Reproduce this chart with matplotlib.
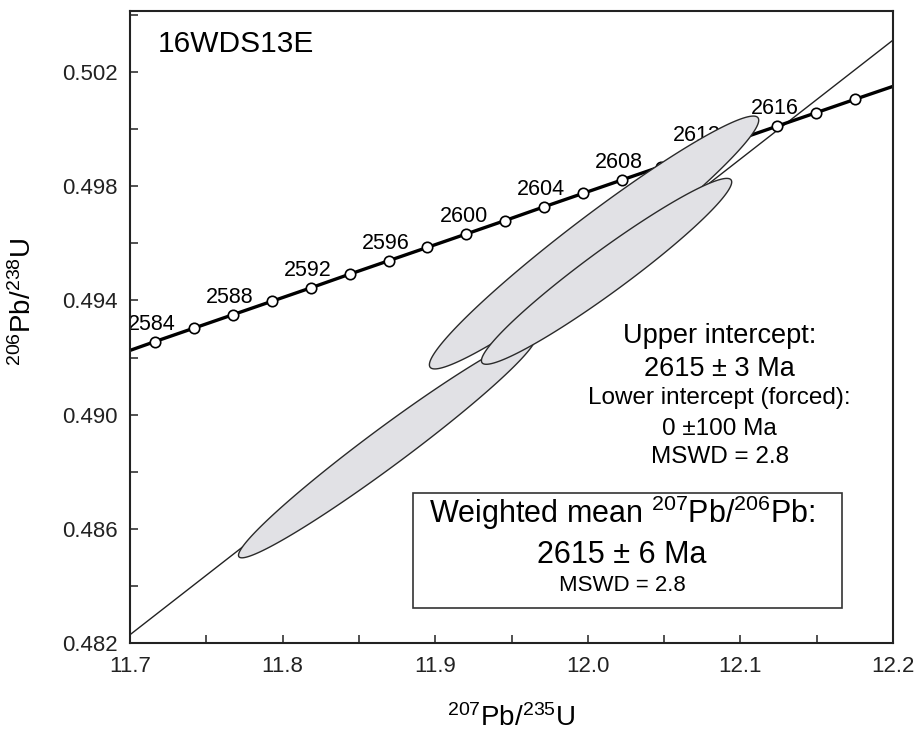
import numpy as np
import matplotlib
matplotlib.use("Agg")
import matplotlib.pyplot as plt
from matplotlib.patches import Rectangle, Polygon
from matplotlib.ticker import MultipleLocator, FormatStrFormatter

plt.rcParams['font.family'] = ['Liberation Sans', 'DejaVu Sans']
plt.rcParams['mathtext.fontset'] = 'custom'
plt.rcParams['mathtext.rm'] = 'Liberation Sans'
plt.rcParams['mathtext.it'] = 'Liberation Sans:italic'
plt.rcParams['mathtext.bf'] = 'Liberation Sans:bold'

# concordia ticks, one every 2 Ma
conc_age = [2584, 2586, 2588, 2590, 2592, 2594, 2596, 2598, 2600, 2602,
            2604, 2606, 2608, 2610, 2612, 2614, 2616, 2618, 2620]
conc_x = [11.7164, 11.7419, 11.7674, 11.7929, 11.8184, 11.8439, 11.8694,
          11.8949, 11.9204, 11.9458, 11.9713, 11.9968, 12.0223, 12.0478,
          12.0733, 12.0988, 12.1243, 12.1498, 12.1753]
conc_y = [0.49256, 0.49303, 0.49350, 0.49397, 0.49444, 0.49492, 0.49539,
          0.49586, 0.49633, 0.49680, 0.49728, 0.49775, 0.49822, 0.49869,
          0.49916, 0.49964, 0.50011, 0.50058, 0.50105]
# ages that get a number next to the marker
labelled_ages = [2584, 2588, 2592, 2596, 2600, 2604, 2608, 2612, 2616]
# where the concordia meets the frame
conc_edge_x = [11.70, 12.20]
conc_edge_y = [0.49225, 0.50150]

# discordia, lower intercept forced through 0 Ma
disc_x = [11.70, 12.20]
disc_y = [0.48229, 0.50312]

# analyses: centre, half-extent in x and y, error correlation
ell_x = [11.8684, 12.0041, 12.0123]
ell_y = [0.48887, 0.49603, 0.49502]
ell_sx = [0.0973, 0.1079, 0.0820]
ell_sy = [0.003886, 0.004429, 0.003256]
ell_rho = [0.9768, 0.9669, 0.9608]

xticks = [11.7, 11.8, 11.9, 12.0, 12.1, 12.2]
yticks = [0.482, 0.486, 0.490, 0.494, 0.498, 0.502]

fig = plt.figure(figsize=(9.2, 7.4), dpi=100)
ax = fig.add_axes([130 / 920, 1 - 643 / 740, 763 / 920, 632 / 740])
ax.set_xlim(11.7, 12.2)
ax.set_ylim(0.482, 0.50414)

# discordia
ax.plot(disc_x, disc_y, color='#222222', lw=1.0, zorder=1)

# concordia curve with age markers
line_x = [conc_edge_x[0]] + conc_x + [conc_edge_x[1]]
line_y = [conc_edge_y[0]] + conc_y + [conc_edge_y[1]]
ax.plot(line_x, line_y, color='black', lw=2.4, zorder=2,
        solid_capstyle='butt')
ax.plot(conc_x, conc_y, 'o', ms=7.5, mfc='white', mec='black', mew=1.2,
        zorder=2.2)
for age, x, y in zip(conc_age, conc_x, conc_y):
    if age in labelled_ages:
        ax.annotate(str(age), (x, y), xytext=(-2, 8.5),
                    textcoords='offset points', ha='center', va='baseline',
                    fontsize=15.5, zorder=2.5)

# error ellipses
t = np.linspace(0, 2 * np.pi, 300)
for i in range(len(ell_x)):
    r = ell_rho[i]
    ex = ell_x[i] + ell_sx[i] * np.cos(t)
    ey = ell_y[i] + ell_sy[i] * (r * np.cos(t) + np.sqrt(1 - r ** 2) * np.sin(t))
    ax.add_patch(Polygon(np.column_stack([ex, ey]), closed=True,
                         facecolor='#e1e1e5', edgecolor='#2a2a2a', lw=1.0,
                         zorder=3 + i))

ax.text(0.037, 0.935, '16WDS13E', transform=ax.transAxes, fontsize=21.5,
        ha='left', va='baseline')

# upper intercept summary
cx = 0.773
ax.text(cx, 0.475, 'Upper intercept:', transform=ax.transAxes, fontsize=19.5,
        ha='center', va='baseline')
ax.text(cx, 0.422, '2615 \u00b1 3 Ma', transform=ax.transAxes, fontsize=19.5,
        ha='center', va='baseline')
ax.text(cx, 0.378, 'Lower intercept (forced):', transform=ax.transAxes,
        fontsize=17.5, ha='center', va='baseline')
ax.text(cx, 0.329, '0 \u00b1100 Ma', transform=ax.transAxes, fontsize=17.5,
        ha='center', va='baseline')
ax.text(cx, 0.285, 'MSWD = 2.8', transform=ax.transAxes, fontsize=17.5,
        ha='center', va='baseline')

# weighted mean box
ax.add_patch(Rectangle((0.371, 0.0554), 0.933 - 0.371, 0.237 - 0.0554,
                       transform=ax.transAxes, facecolor='white',
                       edgecolor='#333333', lw=1.2, zorder=6))
bx = 0.645
ax.text(bx, 0.190, r'Weighted mean $^{207}$Pb/$^{206}$Pb:',
        transform=ax.transAxes, fontsize=22, ha='center', va='baseline',
        zorder=7)
ax.text(bx, 0.127, '2615 \u00b1 6 Ma', transform=ax.transAxes, fontsize=22,
        ha='center', va='baseline', zorder=7)
ax.text(bx, 0.082, 'MSWD = 2.8', transform=ax.transAxes, fontsize=16,
        ha='center', va='baseline', zorder=7)

ax.set_xticks(xticks)
ax.set_yticks(yticks)
ax.xaxis.set_major_formatter(FormatStrFormatter('%.1f'))
ax.yaxis.set_major_formatter(FormatStrFormatter('%.3f'))
ax.xaxis.set_minor_locator(MultipleLocator(0.05))
ax.yaxis.set_minor_locator(MultipleLocator(0.002))
ax.tick_params(which='both', direction='in', length=6, width=1.1,
               top=False, right=False, colors='#222222')
ax.tick_params(labelsize=16, pad=9)
for sp in ax.spines.values():
    sp.set_linewidth(1.5)
    sp.set_color('#222222')

ax.set_xlabel(r'$^{207}$Pb/$^{235}$U', fontsize=20, labelpad=20)
ax.set_ylabel(r'$^{206}$Pb/$^{238}$U', fontsize=20, labelpad=12)
ax.yaxis.set_label_coords(-0.122, 0.54)

fig.savefig('out.png', dpi=100, facecolor='white')
